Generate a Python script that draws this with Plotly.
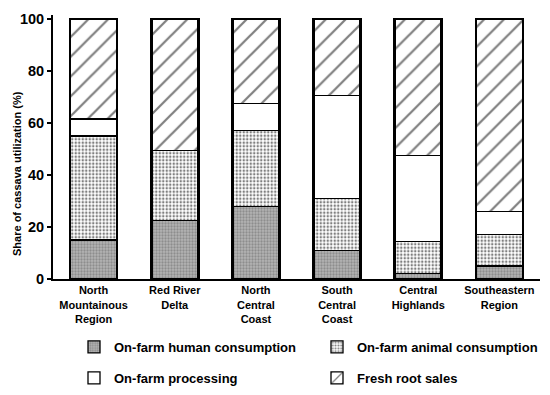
import plotly.graph_objects as go

regions = ["North<br>Mountainous<br>Region", "Red River<br>Delta", "North<br>Central<br>Coast",
           "South<br>Central<br>Coast", "Central<br>Highlands", "Southeastern<br>Region"]
human = [15, 22.5, 28, 11, 2, 5]
animal = [40, 27, 29, 20, 12.5, 12]
processing = [6.5, 0, 10.5, 39.5, 33, 9]
fresh = [38.5, 50.5, 32.5, 29.5, 52.5, 74]
y_ticks = [0, 20, 40, 60, 80, 100]

FONT = "Liberation Sans"
totals = [a + b + c + d for a, b, c, d in zip(human, animal, processing, fresh)]

# page has an 8px body margin: work in screen pixels, convert to figure coords
OFF = 8
W, H = 550 - OFF, 395 - OFF
L, T = 53 - OFF, 15 - OFF
PW = 487
PH = 264
R = W - L - PW
B = H - T - PH
BOTTOM_SCREEN = 15 + PH  # screen y of value 0


def px(sx):
    return (sx - 53) / PW


def py(sy):
    return (BOTTOM_SCREEN - sy) / PH


series = [
    ("On-farm human consumption", human,
     dict(color="#a8a8a8", pattern=dict(shape=".", fgcolor="#666666", bgcolor="#b4b4b4", size=3, solidity=0.45)),
     "legend", (74, 347)),
    ("On-farm animal consumption", animal,
     dict(color="white", pattern=dict(shape=".", fgcolor="black", bgcolor="white", size=3.5, solidity=0.4)),
     "legend2", (317, 347)),
    ("On-farm processing", processing, dict(color="white"), "legend3", (74, 378)),
    ("Fresh root sales", fresh,
     dict(color="white", pattern=dict(shape="/", fgcolor="black", bgcolor="white", size=14, solidity=0.16)),
     "legend4", (317, 378)),
]

fig = go.Figure()
legends = {}
for name, vals, marker, leg, (lx, ly) in series:
    m = dict(marker)
    m["line"] = dict(color="black", width=1.3)
    fig.add_trace(go.Bar(x=regions, y=vals, name=name, marker=m, legend=leg,
                         hoverinfo="skip"))
    legends[leg] = dict(orientation="h", x=px(lx), xanchor="left", y=py(ly), yanchor="middle",
                        font=dict(size=13, family=FONT, weight="bold"),
                        bgcolor="rgba(0,0,0,0)")

# outer outline of each stacked bar
fig.add_trace(go.Bar(x=regions, y=totals, xaxis="x2", yaxis="y2", showlegend=False,
                     marker=dict(color="rgba(0,0,0,0)", line=dict(color="black", width=2.6)),
                     hoverinfo="skip"))

fig.update_layout(
    width=W, height=H,
    margin=dict(l=L, r=R, t=T, b=B, autoexpand=False),
    paper_bgcolor="white", plot_bgcolor="white",
    barmode="stack", bargap=0.42,
    font=dict(family=FONT, color="black", weight="bold"),
    xaxis=dict(showline=True, linecolor="black", linewidth=2, ticks="",
               tickfont=dict(size=11, family=FONT, weight="bold"),
               showgrid=False, zeroline=False, fixedrange=True, automargin=False),
    xaxis2=dict(overlaying="x", matches="x", visible=False),
    yaxis=dict(range=[0, 101.5], showline=True, linecolor="black", linewidth=2,
               ticks="outside", ticklen=4, tickwidth=2, tickcolor="black",
               tickvals=y_ticks, tickfont=dict(size=14.5, family=FONT, weight="bold"),
               showgrid=False, zeroline=False, automargin=False),
    yaxis2=dict(overlaying="y", range=[0, 101.5], visible=False),
    annotations=[dict(text="Share of cassava utilization (%)", textangle=-90,
                      x=px(17), xref="paper", xanchor="center", y=py(174), yref="paper",
                      yanchor="middle", showarrow=False,
                      font=dict(size=11, family=FONT, weight="bold"))],
    **legends,
)

fig.write_html("out.html")
